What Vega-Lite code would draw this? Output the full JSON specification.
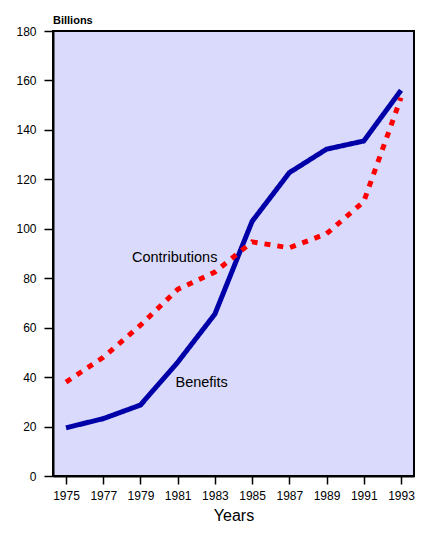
{
  "$schema": "https://vega.github.io/schema/vega-lite/v6.json",
  "width": 361,
  "height": 445,
  "padding": {"left": 15, "top": 15, "right": 5, "bottom": 5},
  "background": "white",
  "title": {"text": "Billions", "anchor": "start", "frame": "group", "font": "Liberation Sans", "fontSize": 11, "fontWeight": "bold", "color": "black", "offset": -1},
  "config": {
    "view": {"fill": "#DADAFC", "stroke": "black", "strokeWidth": 2},
    "axis": {"labelFont": "Liberation Sans", "labelFontSize": 12, "labelColor": "black", "tickColor": "black", "domainColor": "black", "domainWidth": 2, "tickWidth": 1.5, "grid": false, "titleFont": "Liberation Sans", "titleColor": "black"}
  },
  "datasets": {
    "lines": [
      {"year": "1975", "series": "Benefits", "value": 19.5},
      {"year": "1977", "series": "Benefits", "value": 23.2},
      {"year": "1979", "series": "Benefits", "value": 28.7},
      {"year": "1981", "series": "Benefits", "value": 46},
      {"year": "1983", "series": "Benefits", "value": 65.5},
      {"year": "1985", "series": "Benefits", "value": 103},
      {"year": "1987", "series": "Benefits", "value": 122.7},
      {"year": "1989", "series": "Benefits", "value": 132.2},
      {"year": "1991", "series": "Benefits", "value": 135.5},
      {"year": "1993", "series": "Benefits", "value": 156},
      {"year": "1975", "series": "Contributions", "value": 38},
      {"year": "1977", "series": "Contributions", "value": 48},
      {"year": "1979", "series": "Contributions", "value": 61},
      {"year": "1981", "series": "Contributions", "value": 75.5},
      {"year": "1983", "series": "Contributions", "value": 82.5},
      {"year": "1985", "series": "Contributions", "value": 94.7},
      {"year": "1987", "series": "Contributions", "value": 92.3},
      {"year": "1989", "series": "Contributions", "value": 98},
      {"year": "1991", "series": "Contributions", "value": 111},
      {"year": "1993", "series": "Contributions", "value": 153}
    ],
    "labels": [
      {"year": "1981", "value": 88, "label": "Contributions", "dx": -3},
      {"year": "1981", "value": 37.6, "label": "Benefits", "dx": 24}
    ]
  },
  "layer": [
    {
      "data": {"name": "lines"},
      "mark": {"type": "line", "strokeWidth": 5, "strokeCap": "butt"},
      "encoding": {
        "x": {"field": "year", "type": "ordinal", "scale": {"type": "point", "padding": 0.35}, "axis": {"title": "Years", "titleFontSize": 16, "titleFontWeight": "normal", "labelAngle": 0, "tickSize": 8, "labelPadding": 6, "titlePadding": 6}},
        "y": {"field": "value", "type": "quantitative", "scale": {"domain": [0, 180], "nice": false}, "axis": {"title": null, "values": [0, 20, 40, 60, 80, 100, 120, 140, 160, 180], "tickSize": 9, "labelPadding": 8}},
        "color": {"field": "series", "type": "nominal", "scale": {"domain": ["Benefits", "Contributions"], "range": ["#0000A8", "#FF0000"]}, "legend": null},
        "strokeDash": {"field": "series", "type": "nominal", "scale": {"domain": ["Benefits", "Contributions"], "range": [[1, 0], [6, 7]]}, "legend": null},
        "order": {"field": "year"}
      }
    },
    {
      "data": {"name": "labels"},
      "mark": {"type": "text", "font": "Liberation Sans", "fontSize": 14.5, "color": "black", "baseline": "middle", "align": "center"},
      "encoding": {
        "x": {"field": "year", "type": "ordinal"},
        "y": {"field": "value", "type": "quantitative"},
        "text": {"field": "label"},
        "xOffset": {"field": "dx", "type": "quantitative", "scale": null}
      }
    }
  ]
}
